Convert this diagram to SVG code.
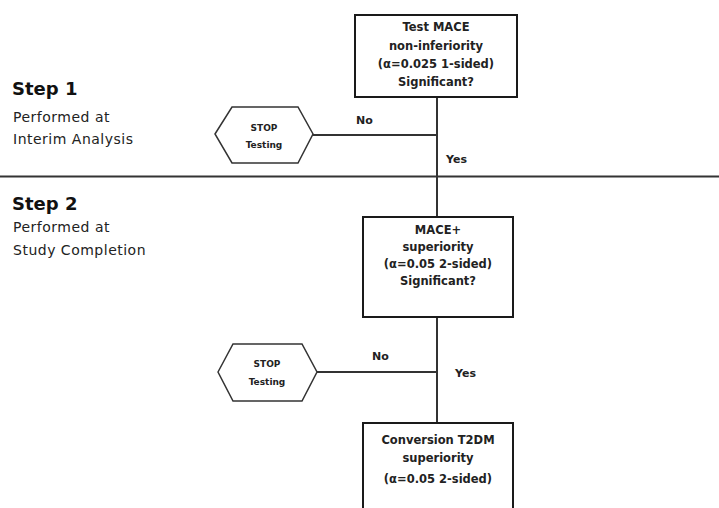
<svg xmlns="http://www.w3.org/2000/svg" width="719" height="508" viewBox="0 0 719 508">
<style>
.box{fill:#fff;stroke:#1a1a1a;stroke-width:2}
.hex{fill:#fff;stroke:#333;stroke-width:1.5}
.ln{stroke:#333;stroke-width:2;fill:none}
.bt{font-family:"DejaVu Sans","Liberation Sans",sans-serif;font-weight:bold;font-size:11.5px;fill:#222;text-anchor:middle}
.st{font-family:"DejaVu Sans","Liberation Sans",sans-serif;font-weight:bold;font-size:9px;fill:#222;text-anchor:middle}
.lb{font-family:"DejaVu Sans","Liberation Sans",sans-serif;font-weight:bold;font-size:11px;fill:#222}
.h{font-family:"DejaVu Sans","Liberation Sans",sans-serif;font-weight:bold;font-size:18px;fill:#111}
.s{font-family:"DejaVu Sans","Liberation Sans",sans-serif;font-size:14px;letter-spacing:0.5px;fill:#222}
</style>
<rect width="719" height="508" fill="#fff"/>
<g id="connectors">
<line class="ln" x1="0" y1="176.5" x2="719" y2="176.5" stroke-width="2.5"/>
<line class="ln" x1="437" y1="97" x2="437" y2="217"/>
<line class="ln" x1="313" y1="135" x2="437" y2="135"/>
<line class="ln" x1="437" y1="317" x2="437" y2="423"/>
<line class="ln" x1="317" y1="372" x2="437" y2="372"/>
<text class="lb" x="356" y="124">No</text>
<text class="lb" x="446" y="163">Yes</text>
<text class="lb" x="372" y="360">No</text>
<text class="lb" x="455" y="377">Yes</text>
</g>
<g id="step1">
<text class="h" x="12" y="95">Step 1</text>
<text class="s" x="13" y="122">Performed at</text>
<text class="s" x="13" y="144">Interim  Analysis</text>
</g>
<g id="step2">
<text class="h" x="12" y="210">Step 2</text>
<text class="s" x="13" y="232">Performed at</text>
<text class="s" x="13" y="255">Study Completion</text>
</g>
<g id="box1">
<rect class="box" x="355" y="15" width="162" height="82"/>
<text class="bt" x="436" y="31">Test MACE</text>
<text class="bt" x="436" y="50">non-inferiority</text>
<text class="bt" x="436" y="68">(α=0.025 1-sided)</text>
<text class="bt" x="436" y="86">Significant?</text>
</g>
<g id="stop1">
<polygon class="hex" points="215,134 232,107 298,107 313,134 298,163 232,163"/>
<text class="st" x="264" y="131">STOP</text>
<text class="st" x="264" y="148">Testing</text>
</g>
<g id="box2">
<rect class="box" x="363" y="217" width="150" height="100"/>
<text class="bt" x="438" y="234">MACE+</text>
<text class="bt" x="438" y="251">superiority</text>
<text class="bt" x="438" y="268">(α=0.05 2-sided)</text>
<text class="bt" x="438" y="285">Significant?</text>
</g>
<g id="stop2">
<polygon class="hex" points="218,372 233,344 302,344 317,372 302,401 233,401"/>
<text class="st" x="267" y="367">STOP</text>
<text class="st" x="267" y="385">Testing</text>
</g>
<g id="box3">
<rect class="box" x="363" y="423" width="150" height="95"/>
<text class="bt" x="438" y="444">Conversion T2DM</text>
<text class="bt" x="438" y="462">superiority</text>
<text class="bt" x="438" y="483">(α=0.05 2-sided)</text>
</g>
</svg>
